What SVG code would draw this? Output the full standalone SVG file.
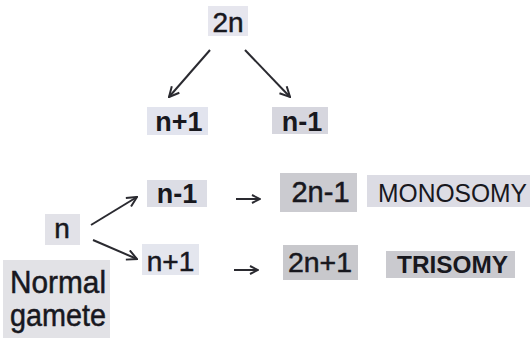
<svg xmlns="http://www.w3.org/2000/svg" width="531" height="338" viewBox="0 0 531 338">
  <defs>
    <style>
      text { font-family: "Liberation Sans", Arial, sans-serif; fill: #18181e; }
      .c { text-anchor: middle; }
      .b { font-weight: bold; }
      .h { stroke: #18181e; stroke-width: 0.5; }
      .conn line { stroke: #2a2a30; stroke-width: 2; fill: none; }
      .conn .thin { stroke-width: 2; }
    </style>
    <marker id="open" viewBox="0 0 12 12" refX="11" refY="6" markerWidth="12" markerHeight="12" markerUnits="userSpaceOnUse" orient="auto">
      <path d="M1,1 L11,6 L1,11" fill="none" stroke="#2a2a30" stroke-width="2"/>
    </marker>
    <marker id="small" viewBox="0 0 10 10" refX="9" refY="5" markerWidth="10" markerHeight="10" markerUnits="userSpaceOnUse" orient="auto">
      <path d="M1,1 L9,5 L1,9" fill="none" stroke="#2a2a30" stroke-width="2"/>
    </marker>
  </defs>
  <rect width="531" height="338" fill="#ffffff"/>

  <g id="node-2n">
    <rect x="208" y="6" width="40" height="30" fill="#e6e6ee"/>
    <text class="c h" x="228" y="32" font-size="28">2n</text>
  </g>
  <g id="node-top-n-plus-1">
    <rect x="147" y="107" width="61" height="28" fill="#e2e4ee"/>
    <text class="c b" x="179" y="131" font-size="27">n+1</text>
  </g>
  <g id="node-top-n-minus-1">
    <rect x="272" y="107" width="56" height="27" fill="#d6d6de"/>
    <text class="c b" x="302" y="131" font-size="27">n-1</text>
  </g>
  <g id="node-n">
    <rect x="45" y="214" width="35" height="31" fill="#e2e2e8"/>
    <text class="c h" x="62" y="238" font-size="28">n</text>
  </g>
  <g id="node-normal-gamete">
    <rect x="3" y="260" width="107" height="78" fill="#e2e2e6"/>
    <text class="h" x="10" y="293" font-size="31" textLength="96" lengthAdjust="spacingAndGlyphs">Normal</text>
    <text class="h" x="10" y="326" font-size="31" textLength="96" lengthAdjust="spacingAndGlyphs">gamete</text>
  </g>
  <g id="node-mid-n-minus-1">
    <rect x="147" y="180" width="60" height="27" fill="#dcdde5"/>
    <text class="c b" x="177" y="203" font-size="27">n-1</text>
  </g>
  <g id="node-mid-n-plus-1">
    <rect x="142" y="244" width="57" height="31" fill="#e4e6ee"/>
    <text class="c h" x="170.5" y="271" font-size="28">n+1</text>
  </g>
  <g id="node-2n-minus-1">
    <rect x="280" y="173" width="77" height="39" fill="#cbcbd0"/>
    <text class="c h" x="320.5" y="202" font-size="29">2n-1</text>
  </g>
  <g id="node-monosomy">
    <rect x="367" y="175" width="163" height="32" fill="#dcdce4"/>
    <text x="378" y="202" font-size="25" textLength="149" lengthAdjust="spacingAndGlyphs">MONOSOMY</text>
  </g>
  <g id="node-2n-plus-1">
    <rect x="283" y="245" width="75" height="35" fill="#c8c8cc"/>
    <text class="c h" x="320" y="272" font-size="28.5">2n+1</text>
  </g>
  <g id="node-trisomy">
    <rect x="386" y="251" width="129" height="27" fill="#cacacf"/>
    <text class="b" x="397" y="273" font-size="24" textLength="111" lengthAdjust="spacingAndGlyphs">TRISOMY</text>
  </g>

  <g id="connectors" class="conn">
    <line x1="210" y1="50" x2="169" y2="97" marker-end="url(#open)"/>
    <line x1="245" y1="50" x2="290" y2="97" marker-end="url(#open)"/>
    <line x1="91" y1="225" x2="137" y2="197" marker-end="url(#open)"/>
    <line x1="93" y1="240" x2="137" y2="259" marker-end="url(#open)"/>
    <line class="thin" x1="236" y1="199" x2="260" y2="199" marker-end="url(#small)"/>
    <line class="thin" x1="234" y1="270" x2="258" y2="270" marker-end="url(#small)"/>
  </g>
</svg>
